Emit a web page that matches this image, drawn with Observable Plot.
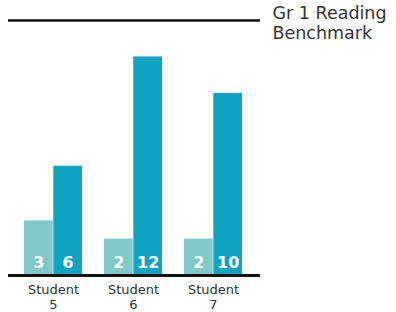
<!DOCTYPE html>
<html><head><meta charset="utf-8">
<script src="https://cdn.jsdelivr.net/npm/d3@7"></script>
<script src="https://cdn.jsdelivr.net/npm/@observablehq/plot@0.6"></script>
<style>body{margin:0;background:#fff} #chart{width:396px;height:312px}</style>
</head><body><div id="chart"></div>
<script>
const students = ["Student 5", "Student 6", "Student 7"];
const studentTicks = ["Student\n5", "Student\n6", "Student\n7"];
const firstScores = [3, 2, 2];
const secondScores = [6, 12, 10];
const benchmark = 14;
const benchmarkLabel = "Gr 1 Reading\nBenchmark";
const seriesColors = ["#80c9c8", "#10a3c1"];

const firstRows = students.map((s, i) => ({student: s, value: firstScores[i]}));
const secondRows = students.map((s, i) => ({student: s, value: secondScores[i]}));
const tickRows = students.map((s, i) => ({student: s, label: studentTicks[i]}));
const halfBand = 29.3;

const chart = Plot.plot({
  width: 396, height: 312,
  marginLeft: 8, marginRight: 136, marginTop: 20, marginBottom: 37,
  x: {type: "band", domain: students, insetLeft: 15, insetRight: 17, paddingInner: 0.273, paddingOuter: 0, axis: null},
  y: {domain: [0, benchmark], axis: null},
  style: {fontFamily: "DejaVu Sans", background: "#fff", overflow: "visible"},
  marks: [
    Plot.barY(firstRows, {x: "student", y: "value", fill: seriesColors[0], insetRight: halfBand}),
    Plot.barY(secondRows, {x: "student", y: "value", fill: seriesColors[1], insetLeft: halfBand}),
    Plot.text(firstRows, {x: "student", y: () => 0, text: d => String(d.value), dx: -halfBand / 2, dy: -8, lineAnchor: "bottom", fill: "white", fontWeight: "bold", fontSize: 16}),
    Plot.text(secondRows, {x: "student", y: () => 0, text: d => String(d.value), dx: halfBand / 2, dy: -8, lineAnchor: "bottom", fill: "white", fontWeight: "bold", fontSize: 16}),
    Plot.ruleY([0], {stroke: "#111", strokeWidth: 3}),
    Plot.ruleY([benchmark], {stroke: "#111", strokeWidth: 2.5}),
    Plot.text([{y: benchmark, label: benchmarkLabel}], {y: "y", text: "label", frameAnchor: "right", dx: 12, dy: 2, textAnchor: "start", lineAnchor: "middle", fontSize: 17.5, lineHeight: 1.12, fill: "#333"}),
    Plot.text(tickRows, {x: "student", y: () => 0, text: "label", lineAnchor: "top", dy: 9, fontSize: 13, lineHeight: 1.08, fill: "#333"})
  ]
});
document.getElementById("chart").appendChild(chart);
</script>
</body></html>
